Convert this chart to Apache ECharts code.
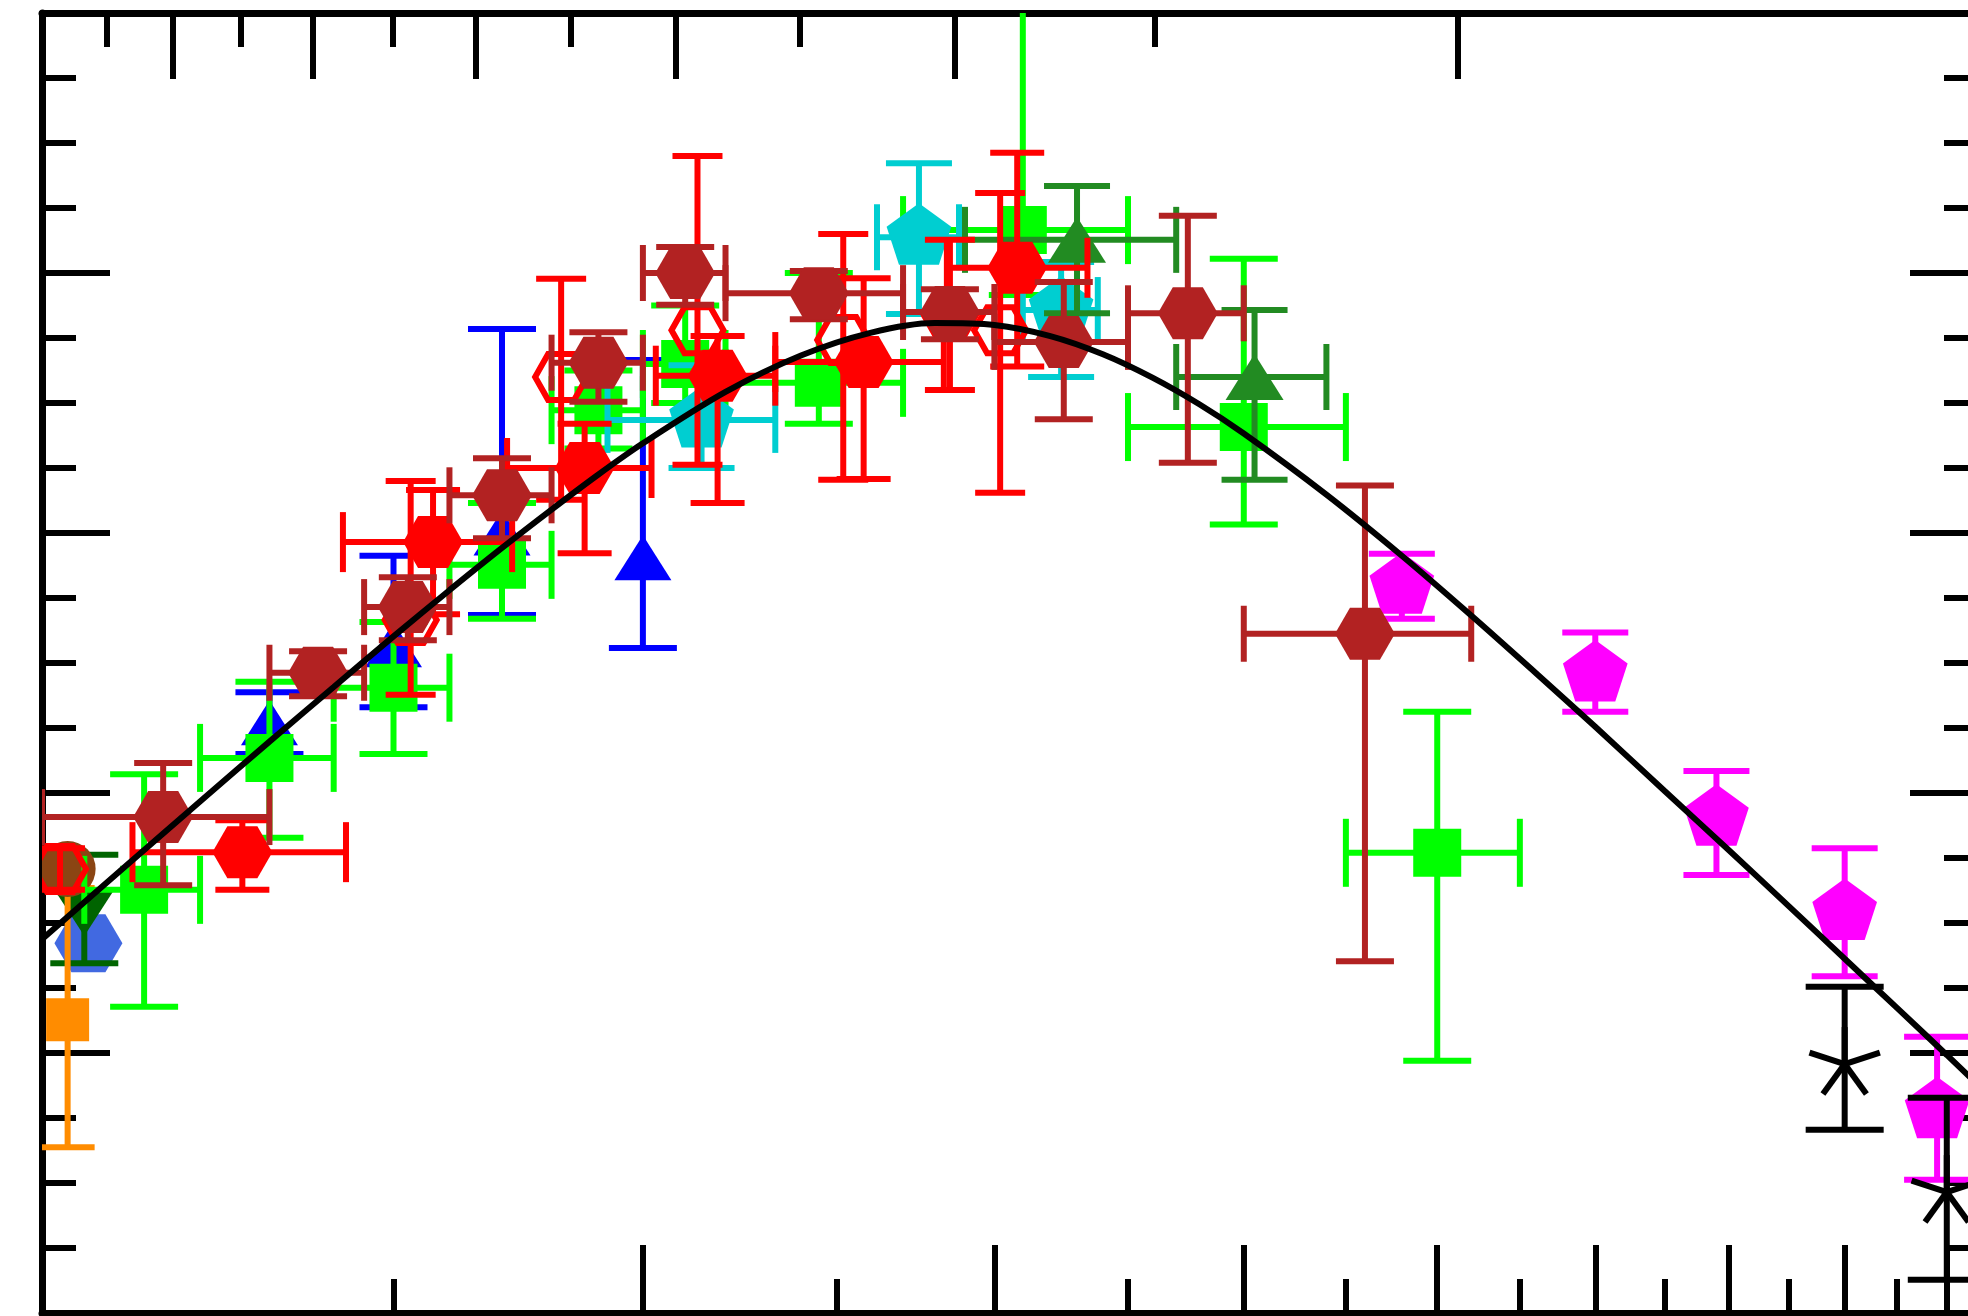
<!DOCTYPE html>
<html>
<head>
<meta charset="utf-8">
<script src="https://cdn.jsdelivr.net/npm/echarts@6.0.0/dist/echarts.min.js"></script>
<style>
  html, body { margin: 0; padding: 0; background: #fff; overflow: hidden; }
  /* the plot frame runs a few pixels past the right edge of the picture */
  #chart { width: 1978px; height: 1316px; }
</style>
</head>
<body>
<div id="chart"></div>
<script>
// bottom axis ticks, in redshift z (axis is log(1+z))
const zMajor = [1, 2, 3, 4, 5, 6, 7, 8]
const zMinor = [0.5, 1.5, 2.5, 3.5, 4.5, 5.5, 6.5, 7.5]
// top axis: redshift of lookback time 1, 2, ... 12 Gyr
const lookbackZ = [0.077, 0.163, 0.257, 0.367, 0.498, 0.65, 0.84, 1.078, 1.398, 1.865, 2.61, 4.12]

// rows: [z, log psi, zLo, zHi, psiLo, psiHi]  (null = no bar)
const sanders = [[0.03, -1.717, null, null, null, null]]
const takeuchi = [[0.03, -1.949, null, null, -2.145, -1.746]]
const wyder = [[0.055, -1.831, null, null, null, null]]
const robotham = [[0.05, -1.783, null, null, -1.862, -1.695]]
const schiminovich = [
  [0.3, -1.492, null, null, -1.540, -1.445],
  [0.5, -1.372, null, null, -1.468, -1.235],
  [0.7, -1.2, null, null, -1.326, -0.886],
  [1.0, -1.238, null, null, -1.377, -0.934],
]
const cucciati = [
  [0.125, -1.749, 0.05, 0.2, -1.929, -1.571],
  [0.3, -1.546, 0.2, 0.4, -1.669, -1.429],
  [0.5, -1.438, 0.4, 0.6, -1.540, -1.337],
  [0.7, -1.249, 0.6, 0.8, -1.332, -1.154],
  [0.9, -1.011, 0.8, 1.0, -1.07, -0.95],
  [1.1, -0.94, 1.0, 1.2, -1.0, -0.85],
  [1.45, -0.969, 1.2, 1.7, -1.032, -0.8],
  [2.1, -0.734, 1.7, 2.5, -0.834, -0.2],
  [3.0, -1.037, 2.5, 3.5, -1.187, -0.778],
  [4.0, -1.692, 3.5, 4.5, -2.012, -1.475],
]
const dahlen = [
  [1.14, -1.026, 0.92, 1.33, -1.100, -0.942],
  [1.75, -0.745, 1.62, 1.88, -0.863, -0.631],
  [2.24, -0.857, 2.1, 2.38, -0.96, -0.783],
]
const reddy = [
  [2.3, -0.749, 1.9, 2.7, -0.862, -0.666],
  [3.05, -0.96, 2.7, 3.4, -1.118, -0.857],
]
const bouwens = [
  [3.8, -1.282, null, null, -1.332, -1.232],
  [5.0, -1.417, null, null, -1.475, -1.353],
  [5.9, -1.639, null, null, -1.726, -1.566],
  [7.0, -1.784, null, null, -1.882, -1.685],
  [7.9, -2.089, null, null, -2.195, -1.975],
]
const schenker = [
  [7.0, -2.017, null, null, -2.118, -1.898],
  [8.0, -2.214, null, null, -2.349, -2.069],
]
const magnelli11 = [
  [0.26, -1.691, 0.11, 0.42, -1.749, -1.642],
  [0.57, -1.214, 0.415, 0.72, -1.325, -1.134],
  [0.87, -1.1, 0.71, 1.02, -1.231, -1.032],
  [1.18, -0.958, 1.03, 1.33, -1.154, -0.897],
  [1.58, -0.937, 1.33, 1.83, -1.117, -0.808],
  [2.08, -0.792, 1.84, 2.34, -0.944, -0.615],
]
const magnelli13 = [
  [0.021, -1.717, null, null, -1.749, -1.685],
  [0.53, -1.334, null, null, -1.449, -1.12],
  [0.82, -0.96, null, null, -1.149, -0.809],
  [1.13, -0.888, null, null, -1.095, -0.62],
  [1.52, -0.903, null, null, -1.118, -0.74],
  [1.85, -0.865, null, null, -0.98, -0.749],
  [2.02, -0.888, null, null, -1.138, -0.677],
]
const gruppioni = [
  [0.15, -1.637, 0.0, 0.3, -1.742, -1.554],
  [0.375, -1.415, 0.3, 0.45, -1.451, -1.382],
  [0.525, -1.314, 0.45, 0.6, -1.365, -1.268],
  [0.7, -1.142, 0.6, 0.8, -1.208, -1.085],
  [0.9, -0.938, 0.8, 1.0, -0.998, -0.891],
  [1.1, -0.8, 1.0, 1.2, -0.849, -0.76],
  [1.45, -0.831, 1.2, 1.7, -0.871, -0.797],
  [1.85, -0.86, 1.7, 2.0, -0.902, -0.825],
  [2.25, -0.906, 2.0, 2.5, -1.025, -0.814],
  [2.75, -0.862, 2.5, 3.0, -1.092, -0.712],
  [3.6, -1.355, 3.0, 4.2, -1.859, -1.127],
]
// fitted curve
const fitZ = [0, 0.1, 0.2, 0.3, 0.4, 0.5, 0.6, 0.7, 0.8, 0.9, 1.0, 1.2, 1.4, 1.6, 1.8, 2.0, 2.2, 2.4, 2.6, 2.8, 3.0, 3.4, 3.8, 4.2, 4.6, 5.0, 5.5, 6.0, 6.5, 7.0, 7.5, 8.0, 8.33]
const fitPsi = [-1.825, -1.714, -1.613, -1.521, -1.437, -1.359, -1.288, -1.223, -1.164, -1.110, -1.062, -0.983, -0.927, -0.892, -0.877, -0.880, -0.897, -0.925, -0.961, -1.002, -1.047, -1.141, -1.235, -1.327, -1.415, -1.498, -1.597, -1.688, -1.774, -1.855, -1.931, -2.003, -2.049]

const X_MIN = 1, X_MAX = 9.33
const LW = 6
const onePlus = (arr) => arr.map((z) => z + 1)

function seg(x1, y1, x2, y2, color) {
  return { type: 'line', silent: true, shape: { x1, y1, x2, y2 }, style: { stroke: color, lineWidth: LW } }
}

function marker(st, cx, cy) {
  const c = st.color
  if (st.shape === 'circle') {
    return { type: 'circle', shape: { cx, cy, r: st.r }, style: { fill: c } }
  }
  if (st.shape === 'square') {
    return { type: 'rect', shape: { x: cx - st.r, y: cy - st.r, width: st.r * 2, height: st.r * 2 }, style: { fill: c } }
  }
  if (st.shape === 'tri' || st.shape === 'itri') {
    const s = st.shape === 'tri' ? 1 : -1
    return {
      type: 'polygon',
      shape: { points: [[cx, cy - s * st.h / 2], [cx + st.w / 2, cy + s * st.h / 2], [cx - st.w / 2, cy + s * st.h / 2]] },
      style: { fill: c },
    }
  }
  if (st.shape === 'pent') {
    const pts = []
    for (let k = 0; k < 5; k++) {
      const a = (-90 + 72 * k) * Math.PI / 180
      pts.push([cx + st.r * Math.cos(a), cy + st.r * Math.sin(a)])
    }
    return { type: 'polygon', shape: { points: pts }, style: { fill: c } }
  }
  if (st.shape === 'hex' || st.shape === 'ohex') {
    const pts = []
    for (let k = 0; k < 6; k++) {
      const a = (60 * k) * Math.PI / 180
      pts.push([cx + st.rx * Math.cos(a), cy + st.hy * Math.sin(a) / Math.sin(Math.PI / 3)])
    }
    if (st.shape === 'ohex') {
      return { type: 'polygon', shape: { points: pts }, style: { fill: 'none', stroke: c, lineWidth: LW } }
    }
    return { type: 'polygon', shape: { points: pts }, style: { fill: c } }
  }
  // asterisk, five spokes
  const kids = []
  for (let k = 0; k < 5; k++) {
    const a = (90 + 72 * k) * Math.PI / 180
    kids.push(seg(cx, cy, cx + st.r * Math.cos(a), cy - st.r * Math.sin(a), c))
  }
  return { type: 'group', children: kids }
}

function pointSeries(name, rows, st) {
  return {
    type: 'custom',
    name,
    clip: true,
    xAxisIndex: 0,
    yAxisIndex: 0,
    data: rows.map((r) => [r[0] + 1, r[1]]),
    renderItem: (params, api) => {
      const r = rows[params.dataIndex]
      const c = api.coord([r[0] + 1, r[1]])
      const kids = []
      if (r[4] !== null) {
        const lo = api.coord([r[0] + 1, r[4]])[1]
        const hi = api.coord([r[0] + 1, r[5]])[1]
        kids.push(seg(c[0], lo, c[0], hi, st.color))
        kids.push(seg(c[0] - st.capY, lo, c[0] + st.capY, lo, st.color))
        kids.push(seg(c[0] - st.capY, hi, c[0] + st.capY, hi, st.color))
      }
      if (r[2] !== null) {
        const l = api.coord([r[2] + 1, r[1]])[0]
        const h = api.coord([r[3] + 1, r[1]])[0]
        kids.push(seg(l, c[1], h, c[1], st.color))
        kids.push(seg(l, c[1] - st.capX, l, c[1] + st.capX, st.color))
        kids.push(seg(h, c[1] - st.capX, h, c[1] + st.capX, st.color))
      }
      kids.push(marker(st, c[0], c[1]))
      return { type: 'group', children: kids }
    },
  }
}

const tickLine = { color: '#000', width: 6 }
function xAxis(position, ticks, len, showLine) {
  return {
    type: 'log',
    position,
    min: X_MIN,
    max: X_MAX,
    axisLine: { show: showLine, lineStyle: { color: '#000', width: 7 } },
    axisTick: { show: true, inside: true, length: len, customValues: onePlus(ticks), lineStyle: tickLine },
    axisLabel: { show: false },
    splitLine: { show: false },
    minorTick: { show: false },
  }
}
function yAxis(position) {
  return {
    type: 'value',
    position,
    min: -2.4,
    max: -0.4,
    interval: 0.4,
    axisLine: { show: true, lineStyle: { color: '#000', width: 7 } },
    axisTick: { show: true, inside: true, length: 68, lineStyle: tickLine },
    minorTick: { show: true, splitNumber: 4, length: 34, lineStyle: tickLine },
    axisLabel: { show: false },
    splitLine: { show: false },
  }
}

const chart = echarts.init(document.getElementById('chart'))
chart.setOption({
  animation: false,
  backgroundColor: '#fff',
  grid: { left: 42, top: 13, right: 0, bottom: 3, containLabel: false },
  xAxis: [
    xAxis('bottom', zMajor, 68, true),
    xAxis('bottom', zMinor, 34, false),
    xAxis('top', lookbackZ.filter((v, i) => i % 2 === 1), 66, true),
    xAxis('top', lookbackZ.filter((v, i) => i % 2 === 0), 34, false),
  ],
  yAxis: [yAxis('left'), yAxis('right')],
  series: [
    pointSeries('Wyder05', wyder, { color: '#4169E1', shape: 'hex', rx: 34, hy: 29 }),
    pointSeries('Robotham11', robotham, { color: '#006400', shape: 'itri', w: 62, h: 48, capY: 34 }),
    pointSeries('Takeuchi05', takeuchi, { color: '#FF8C00', shape: 'square', r: 21.5, capY: 27 }),
    pointSeries('Sanders03', sanders, { color: '#8B4513', shape: 'circle', r: 28 }),
    pointSeries('Schiminovich05', schiminovich, { color: '#0000FF', shape: 'tri', w: 57, h: 45, capY: 34 }),
    pointSeries('Cucciati12', cucciati, { color: '#00FF00', shape: 'square', r: 24, capY: 34, capX: 34 }),
    pointSeries('Dahlen07', dahlen, { color: '#00CED1', shape: 'pent', r: 34, capY: 33, capX: 33 }),
    pointSeries('Reddy09', reddy, { color: '#228B22', shape: 'tri', w: 58, h: 46, capY: 33, capX: 33 }),
    pointSeries('Bouwens12', bouwens, { color: '#FF00FF', shape: 'pent', r: 34, capY: 33 }),
    pointSeries('Schenker13', schenker, { color: '#000000', shape: 'star', r: 37, capY: 39 }),
    pointSeries('Magnelli11', magnelli11, { color: '#FF0000', shape: 'hex', rx: 30, hy: 26, capY: 27, capX: 30 }),
    pointSeries('Magnelli13', magnelli13, { color: '#FF0000', shape: 'ohex', rx: 26, hy: 23, capY: 25 }),
    pointSeries('Gruppioni13', gruppioni, { color: '#B22222', shape: 'hex', rx: 30, hy: 26, capY: 29, capX: 28 }),
    {
      type: 'line',
      name: 'fit',
      data: fitZ.map((z, i) => [z + 1, fitPsi[i]]),
      showSymbol: false,
      smooth: 0.3,
      clip: true,
      lineStyle: { color: '#000', width: 6 },
      z: 5,
    },
  ],
})
</script>
</body>
</html>
